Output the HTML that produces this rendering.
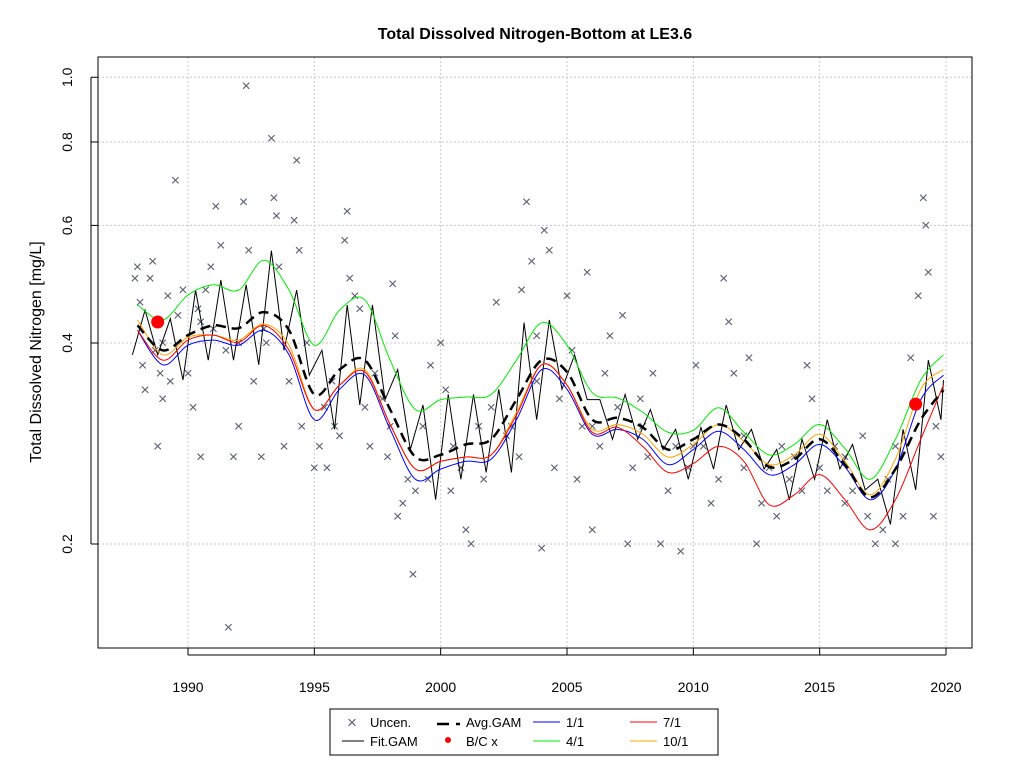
<!DOCTYPE html>
<html><head><meta charset="utf-8"><style>
body{margin:0;background:#fff;font-family:"Liberation Sans",Arial,sans-serif}
svg text{font-family:"Liberation Sans",Arial,sans-serif}
</style></head><body>
<svg id="chart" width="1024" height="768" xmlns="http://www.w3.org/2000/svg">
<rect width="1024" height="768" fill="#fff"/>
<text x="535" y="39" font-size="16" font-weight="bold" text-anchor="middle">Total Dissolved Nitrogen-Bottom at LE3.6</text>
<text transform="translate(41,352) rotate(-90)" font-size="16" text-anchor="middle">Total Dissolved Nitrogen [mg/L]</text>
<g id="grid"></g>
<g id="marks"></g>
<rect x="98" y="57" width="874" height="591" fill="none" stroke="#000" stroke-width="1"/>
<g id="axes"></g>
<g>
<rect x="330" y="709" width="388" height="46" fill="#fff" stroke="#000"/>
<g><text x="352" y="728" font-size="17" fill="#5a6070" text-anchor="middle">×</text><text x="370" y="727" font-size="13">Uncen.</text></g>
<g><line x1="342" y1="741" x2="364" y2="741" stroke="#000"/><text x="370" y="746" font-size="13">Fit.GAM</text></g>
<g><line x1="437" y1="724" x2="449" y2="724" stroke="#000" stroke-width="2.5"/><line x1="456" y1="724" x2="460" y2="724" stroke="#000" stroke-width="2.5"/><text x="466" y="727" font-size="13">Avg.GAM</text></g>
<g><circle cx="448" cy="740" r="3" fill="#f00"/><text x="466" y="746" font-size="13">B/C x</text></g>
<g><line x1="533" y1="722" x2="560" y2="722" stroke="#00f"/><text x="566" y="727" font-size="13">1/1</text></g>
<g><line x1="533" y1="741" x2="560" y2="741" stroke="#0e0"/><text x="566" y="746" font-size="13">4/1</text></g>
<g><line x1="630" y1="722" x2="657" y2="722" stroke="#f00"/><text x="663" y="727" font-size="13">7/1</text></g>
<g><line x1="630" y1="741" x2="657" y2="741" stroke="#ffa500"/><text x="663" y="746" font-size="13">10/1</text></g>
</g>
</svg>
<script>
const xTicks=[1990,1995,2000,2005,2010,2015,2020];
const yTicks=[0.2,0.4,0.6,0.8,1.0];
const yTickLabels=["0.2","0.4","0.6","0.8","1.0"];
const gamYears=[1988,1989,1990,1991,1992,1993,1994,1995,1996,1997,1998,1999,2000,2001,2002,2003,2004,2005,2006,2007,2008,2009,2010,2011,2012,2013,2014,2015,2016,2017,2018,2019,2019.9];
const avgGam=[0.425,0.390,0.411,0.425,0.421,0.445,0.418,0.335,0.365,0.377,0.318,0.270,0.272,0.282,0.287,0.329,0.377,0.362,0.307,0.309,0.299,0.277,0.287,0.302,0.287,0.261,0.268,0.287,0.263,0.235,0.259,0.307,0.340];
const series41=[0.456,0.433,0.472,0.489,0.480,0.532,0.480,0.397,0.448,0.464,0.377,0.318,0.329,0.332,0.335,0.377,0.429,0.397,0.337,0.331,0.315,0.294,0.296,0.320,0.294,0.272,0.282,0.302,0.278,0.250,0.287,0.352,0.384];
const series11=[0.418,0.371,0.397,0.404,0.397,0.418,0.384,0.307,0.341,0.358,0.297,0.250,0.259,0.266,0.268,0.307,0.365,0.341,0.292,0.297,0.287,0.263,0.277,0.295,0.277,0.254,0.263,0.282,0.261,0.233,0.259,0.329,0.358];
const series71=[0.418,0.377,0.404,0.411,0.401,0.425,0.390,0.318,0.346,0.362,0.302,0.259,0.266,0.270,0.272,0.312,0.371,0.346,0.294,0.299,0.280,0.256,0.264,0.280,0.266,0.229,0.237,0.254,0.233,0.210,0.233,0.287,0.346];
const series101=[0.433,0.384,0.408,0.411,0.404,0.427,0.397,0.318,0.346,0.365,0.302,0.259,0.266,0.270,0.272,0.315,0.371,0.346,0.297,0.302,0.292,0.270,0.282,0.302,0.285,0.263,0.272,0.292,0.266,0.237,0.268,0.341,0.365];
const fitYears=[1988,1989,1990,1991,1992,1993,1994,1995,1996,1997,1998,1999,2000,2001,2002,2003,2004,2005,2006,2007,2008,2009,2010,2011,2012,2013,2014,2015,2016,2017,2018,2019];
const fitPeak=[0.448,0.435,0.480,0.497,0.489,0.550,0.480,0.390,0.456,0.456,0.365,0.323,0.335,0.335,0.341,0.429,0.433,0.384,0.329,0.335,0.318,0.297,0.299,0.323,0.297,0.277,0.287,0.307,0.282,0.250,0.297,0.377];
const fitTrough=[0.384,0.352,0.377,0.377,0.371,0.390,0.358,0.297,0.323,0.329,0.277,0.233,0.250,0.256,0.256,0.307,0.341,0.329,0.287,0.287,0.277,0.250,0.259,0.277,0.259,0.233,0.250,0.259,0.241,0.214,0.241,0.307];
const fitEnd=0.352;
const bcYears=[1988.8,2018.8];
const bcValues=[0.430,0.324];
const obsYears=[1987.9,1988,1988.1,1988.2,1988.3,1988.5,1988.6,1988.7,1988.8,1988.9,1989,1989.2,1989.3,1989.5,1989.6,1989.8,1990,1990.2,1990.4,1990.5,1990.7,1990.9,1991,1991.1,1991.3,1991.5,1991.6,1991.8,1992,1992,1992.2,1992.3,1992.4,1992.6,1992.9,1993.1,1993.3,1993.4,1993.5,1993.6,1993.8,1994,1994.2,1994.3,1994.4,1994.5,1994.7,1995,1995.2,1995.4,1995.5,1995.7,1996,1996.2,1996.3,1996.4,1996.6,1996.8,1997,1997.2,1997.4,1997.7,1997.9,1998.1,1998.2,1998.3,1998.5,1998.7,1998.9,1999,1999.3,1999.6,2000,2000.2,2000.5,2000.8,2001,2001.2,2001.5,2001.7,2002,2002.2,2002.6,2002.8,2003.1,2003.2,2003.4,2003.6,2003.8,2004,2004.1,2004.3,2004.5,2004.7,2005,2005.2,2005.4,2005.6,2005.8,2006,2006.3,2006.5,2006.7,2007,2007.2,2007.4,2007.6,2007.9,2008.2,2008.4,2008.7,2009,2009.3,2009.5,2009.8,2010.1,2010.4,2010.7,2011,2011.2,2011.4,2011.6,2012,2012.2,2012.5,2012.7,2013,2013.3,2013.5,2013.8,2014.3,2014.5,2014.7,2015,2015.3,2015.6,2016,2016.3,2016.7,2016.9,2017.2,2017.5,2017.7,2018,2018.3,2018.6,2018.9,2019.1,2019.2,2019.3,2019.5,2019.6,2019.8,1989,1990.5,1993,1995.8,1998,1999.5,2000.4,2003.8,2006,2008,2010,2012,2014,2016,2018];
const obsValues=[0.5,0.52,0.46,0.37,0.34,0.5,0.53,0.39,0.28,0.36,0.33,0.47,0.35,0.7,0.44,0.48,0.36,0.32,0.45,0.27,0.48,0.52,0.42,0.64,0.56,0.39,0.15,0.27,0.3,0.4,0.65,0.97,0.55,0.35,0.27,0.4,0.81,0.66,0.62,0.52,0.28,0.35,0.61,0.75,0.55,0.3,0.4,0.26,0.28,0.32,0.26,0.35,0.29,0.57,0.63,0.5,0.47,0.45,0.32,0.28,0.36,0.33,0.27,0.49,0.41,0.22,0.23,0.25,0.18,0.24,0.3,0.37,0.4,0.34,0.28,0.26,0.21,0.2,0.3,0.25,0.32,0.46,0.29,0.3,0.27,0.48,0.65,0.53,0.41,0.197,0.59,0.55,0.26,0.33,0.47,0.39,0.25,0.3,0.51,0.21,0.28,0.36,0.41,0.32,0.44,0.2,0.26,0.33,0.27,0.36,0.2,0.24,0.28,0.195,0.26,0.37,0.28,0.23,0.25,0.5,0.43,0.36,0.26,0.38,0.2,0.23,0.26,0.22,0.28,0.25,0.24,0.37,0.33,0.26,0.24,0.28,0.23,0.24,0.29,0.22,0.2,0.21,0.25,0.2,0.22,0.38,0.47,0.66,0.6,0.51,0.22,0.3,0.27,0.4,0.43,0.42,0.3,0.3,0.25,0.24,0.35,0.3,0.3,0.28,0.29,0.27,0.27,0.28];

const NS='http://www.w3.org/2000/svg';
const X=yr=>188+(yr-1990)*(946-188)/30;
const Y=v=>544-290*Math.log(v/0.2);
function mk(tag,attrs,parent){const e=document.createElementNS(NS,tag);for(const k in attrs)e.setAttribute(k,attrs[k]);parent.appendChild(e);return e;}
const grid=document.getElementById('grid'),marks=document.getElementById('marks'),axes=document.getElementById('axes');
xTicks.forEach(t=>{
 const g=mk('line',{x1:X(t),x2:X(t),y1:57,y2:648,stroke:'#c8c8c8','stroke-dasharray':'2,2'},grid);
 
 
 const tk=mk('line',{x1:X(t),x2:X(t),y1:648,y2:655,stroke:'#000'},axes);
 
 
 const tl=mk('text',{x:X(t),y:692,'font-size':14,'text-anchor':'middle'},axes);tl.textContent=t;
 
 
});
mk('line',{x1:X(1990),x2:X(2020),y1:655,y2:655,stroke:'#000'},axes);
yTicks.forEach((t,i)=>{
 const g=mk('line',{x1:98,x2:972,y1:Y(t),y2:Y(t),stroke:'#c8c8c8','stroke-dasharray':'2,2'},grid);
 
 
 const tk=mk('line',{x1:91,x2:98,y1:Y(t),y2:Y(t),stroke:'#000'},axes);
 
 
 const tl=mk('text',{transform:`translate(72,${Y(t)}) rotate(-90)`,'font-size':14,'text-anchor':'middle'},axes);tl.textContent=yTickLabels[i];
 
 
});
mk('line',{x1:91,x2:91,y1:Y(1.0),y2:Y(0.2),stroke:'#000'},axes);
obsYears.forEach((yr,i)=>{
 const t=mk('text',{x:X(yr),y:Y(obsValues[i])+5,'font-size':16,fill:'#5a6070','text-anchor':'middle'},marks);t.textContent='×';
 
 
});
function smooth(xs,vs){const p=xs.map((x,i)=>[X(x),Y(vs[i])]);let d=`M${p[0][0]},${p[0][1]}`;
 for(let i=0;i<p.length-1;i++){const p0=p[i-1]||p[i],p1=p[i],p2=p[i+1],p3=p[i+2]||p2;
 d+=` C${p1[0]+(p2[0]-p0[0])/6},${p1[1]+(p2[1]-p0[1])/6} ${p2[0]-(p3[0]-p1[0])/6},${p2[1]-(p3[1]-p1[1])/6} ${p2[0]},${p2[1]}`;}return d;}
const fx=[],fv=[];
fitYears.forEach((y,i)=>{fx.push(y+0.3);fv.push(fitPeak[i]);fx.push(y+0.8);fv.push(fitTrough[i]);});
fx.unshift(1987.8);fv.unshift(fitTrough[0]);fx.push(2019.9);fv.push(fitEnd);
const fit=mk('polyline',{points:fx.map((x,i)=>X(x)+','+Y(fv[i])).join(' '),fill:'none',stroke:'#000','stroke-width':1},marks);


[[series11,'#00f','series-1-1'],[series101,'#ffa500','series-10-1'],[series71,'#f00','series-7-1'],[series41,'#0e0','series-4-1']].forEach(([s,c,n])=>{
 const p=mk('path',{d:smooth(gamYears,s),fill:'none',stroke:c,'stroke-width':1},marks);
 
 
});
const avg=mk('path',{d:smooth(gamYears,avgGam),fill:'none',stroke:'#000','stroke-width':2.5,'stroke-dasharray':'10,6'},marks);


bcYears.forEach((y,i)=>{
 const c=mk('circle',{cx:X(y),cy:Y(bcValues[i]),r:6.5,fill:'#f00'},marks);
 
 
});
</script>
</body></html>
